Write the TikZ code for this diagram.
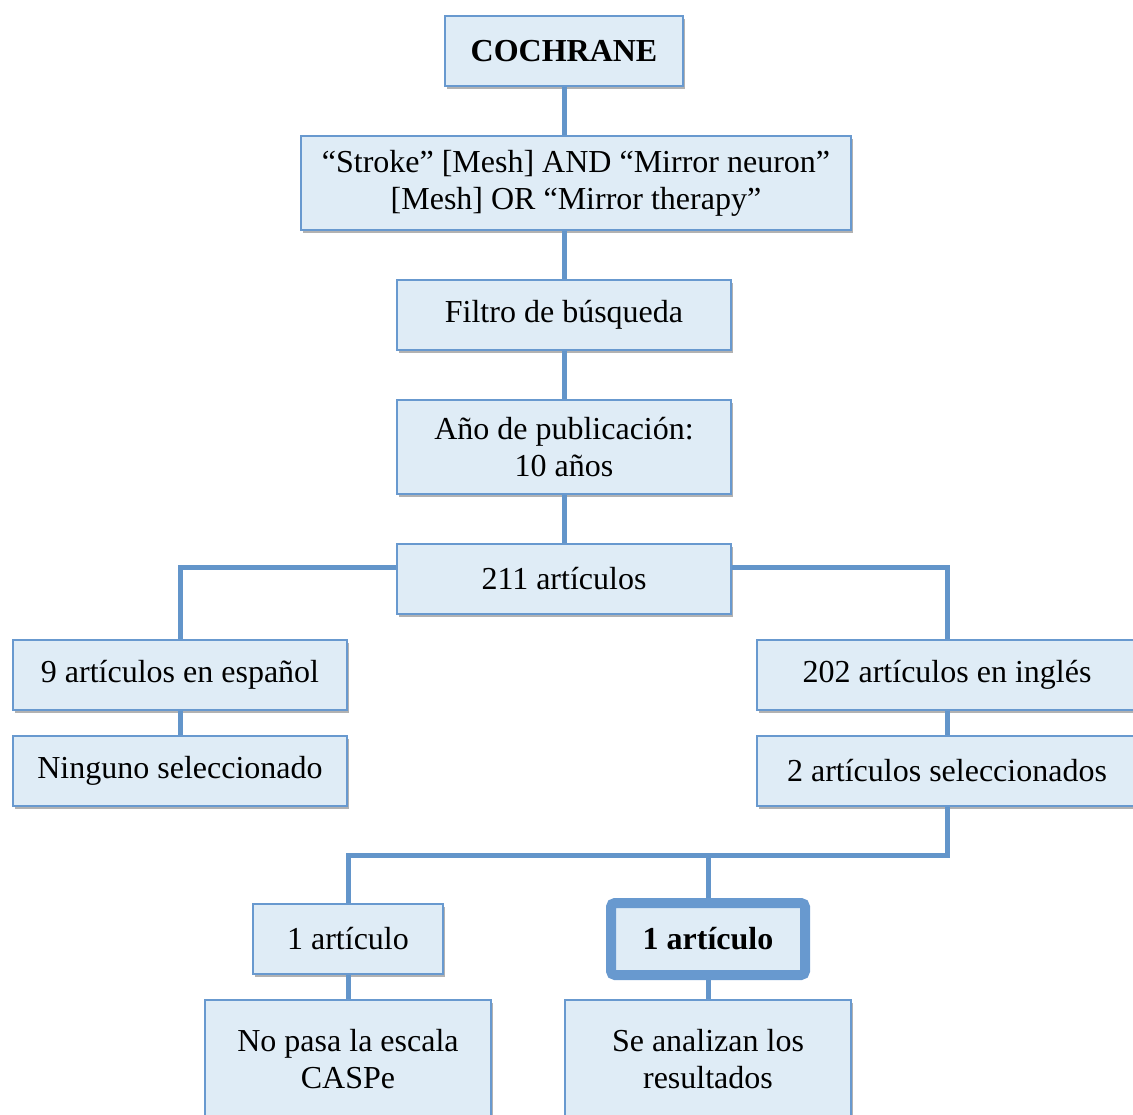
\documentclass[tikz,border=0pt]{standalone}
\usepackage{fontspec}
\setmainfont{Liberation Serif}
\usetikzlibrary{shadows}
\definecolor{boxfill}{RGB}{223,236,246}
\definecolor{boxline}{RGB}{104,153,207}
\definecolor{linkblue}{RGB}{99,149,202}
\begin{document}
\begin{tikzpicture}[x=1pt, y=-1pt, semithick]
                        \tikzset{box/.style={draw=boxline, line width=2pt, fill=boxfill, inner sep=0pt, align=center,
                                font=\fontsize{32}{37}\selectfont,
                                drop shadow={shadow xshift=2pt, shadow yshift=-3pt, opacity=0.3, fill=black}}};
                        \tikzset{link/.style={draw=linkblue, line width=5pt}};
                        \useasboundingbox (0, 0) rectangle (1133, 1115);
                        \node[box, minimum width=238pt, minimum height=70pt, font=\fontsize{32}{37}\selectfont\bfseries] (cochrane) at (564, 51) {COCHRANE};
                        \node[box, minimum width=550pt, minimum height=94pt] (stroke) at (576, 183) {“Stroke” [Mesh] AND “Mirror neuron”\\ {[Mesh]} OR “Mirror therapy”};
                        \node[box, minimum width=334pt, minimum height=70pt] (filtro) at (564, 315) {Filtro de búsqueda};
                        \node[box, minimum width=334pt, minimum height=94pt] (anio) at (564, 447) {Año de publicación:\\ 10 años};
                        \node[box, minimum width=334pt, minimum height=70pt] (total) at (564, 579) {211 artículos};
                        \node[box, minimum width=334pt, minimum height=70pt] (esp) at (180, 675) {9 artículos en español};
                        \node[box, minimum width=380pt, minimum height=70pt] (ing) at (947, 675) {202 artículos en inglés};
                        \node[box, minimum width=334pt, minimum height=70pt] (ninguno) at (180, 771) {Ninguno seleccionado};
                        \node[box, minimum width=380pt, minimum height=70pt] (selec) at (947, 771) {2 artículos seleccionados};
                        \node[box, minimum width=190pt, minimum height=70pt] (art1) at (348, 939) {1 artículo};
                        \node[box, line width=10pt, rounded corners=4pt, minimum width=194pt, minimum height=72pt,
                              font=\fontsize{32}{37}\selectfont\bfseries] (art2) at (708, 939) {1 artículo};
                        \node[box, minimum width=286pt, minimum height=118pt] (caspe) at (348, 1059) {No pasa la escala\\ CASPe};
                        \node[box, minimum width=286pt, minimum height=118pt] (result) at (708, 1059) {Se analizan los\\ resultados};
                        \draw[link] (cochrane) -- (cochrane.south |- stroke.north);
                        \draw[link] (filtro.north) -- (filtro.north |- stroke.south);
                        \draw[link] (filtro) -- (anio);
                        \draw[link] (anio) -- (total);
                        \draw[link] ([yshift=12pt]total.west) -| (esp.north);
                        \draw[link] ([yshift=12pt]total.east) -| (ing.north);
                        \draw[link] (esp) -- (ninguno);
                        \draw[link] (ing) -- (selec);
                        \coordinate (split) at (947, 855);
                        \draw[link] (selec.south) -- (split) -| (art1.north);
                        \draw[link] (art2.north) -- (art2.north |- split);
                        \draw[link] (art1) -- (caspe);
                        \draw[link] (art2) -- (result);
                    \end{tikzpicture}
\end{document}
